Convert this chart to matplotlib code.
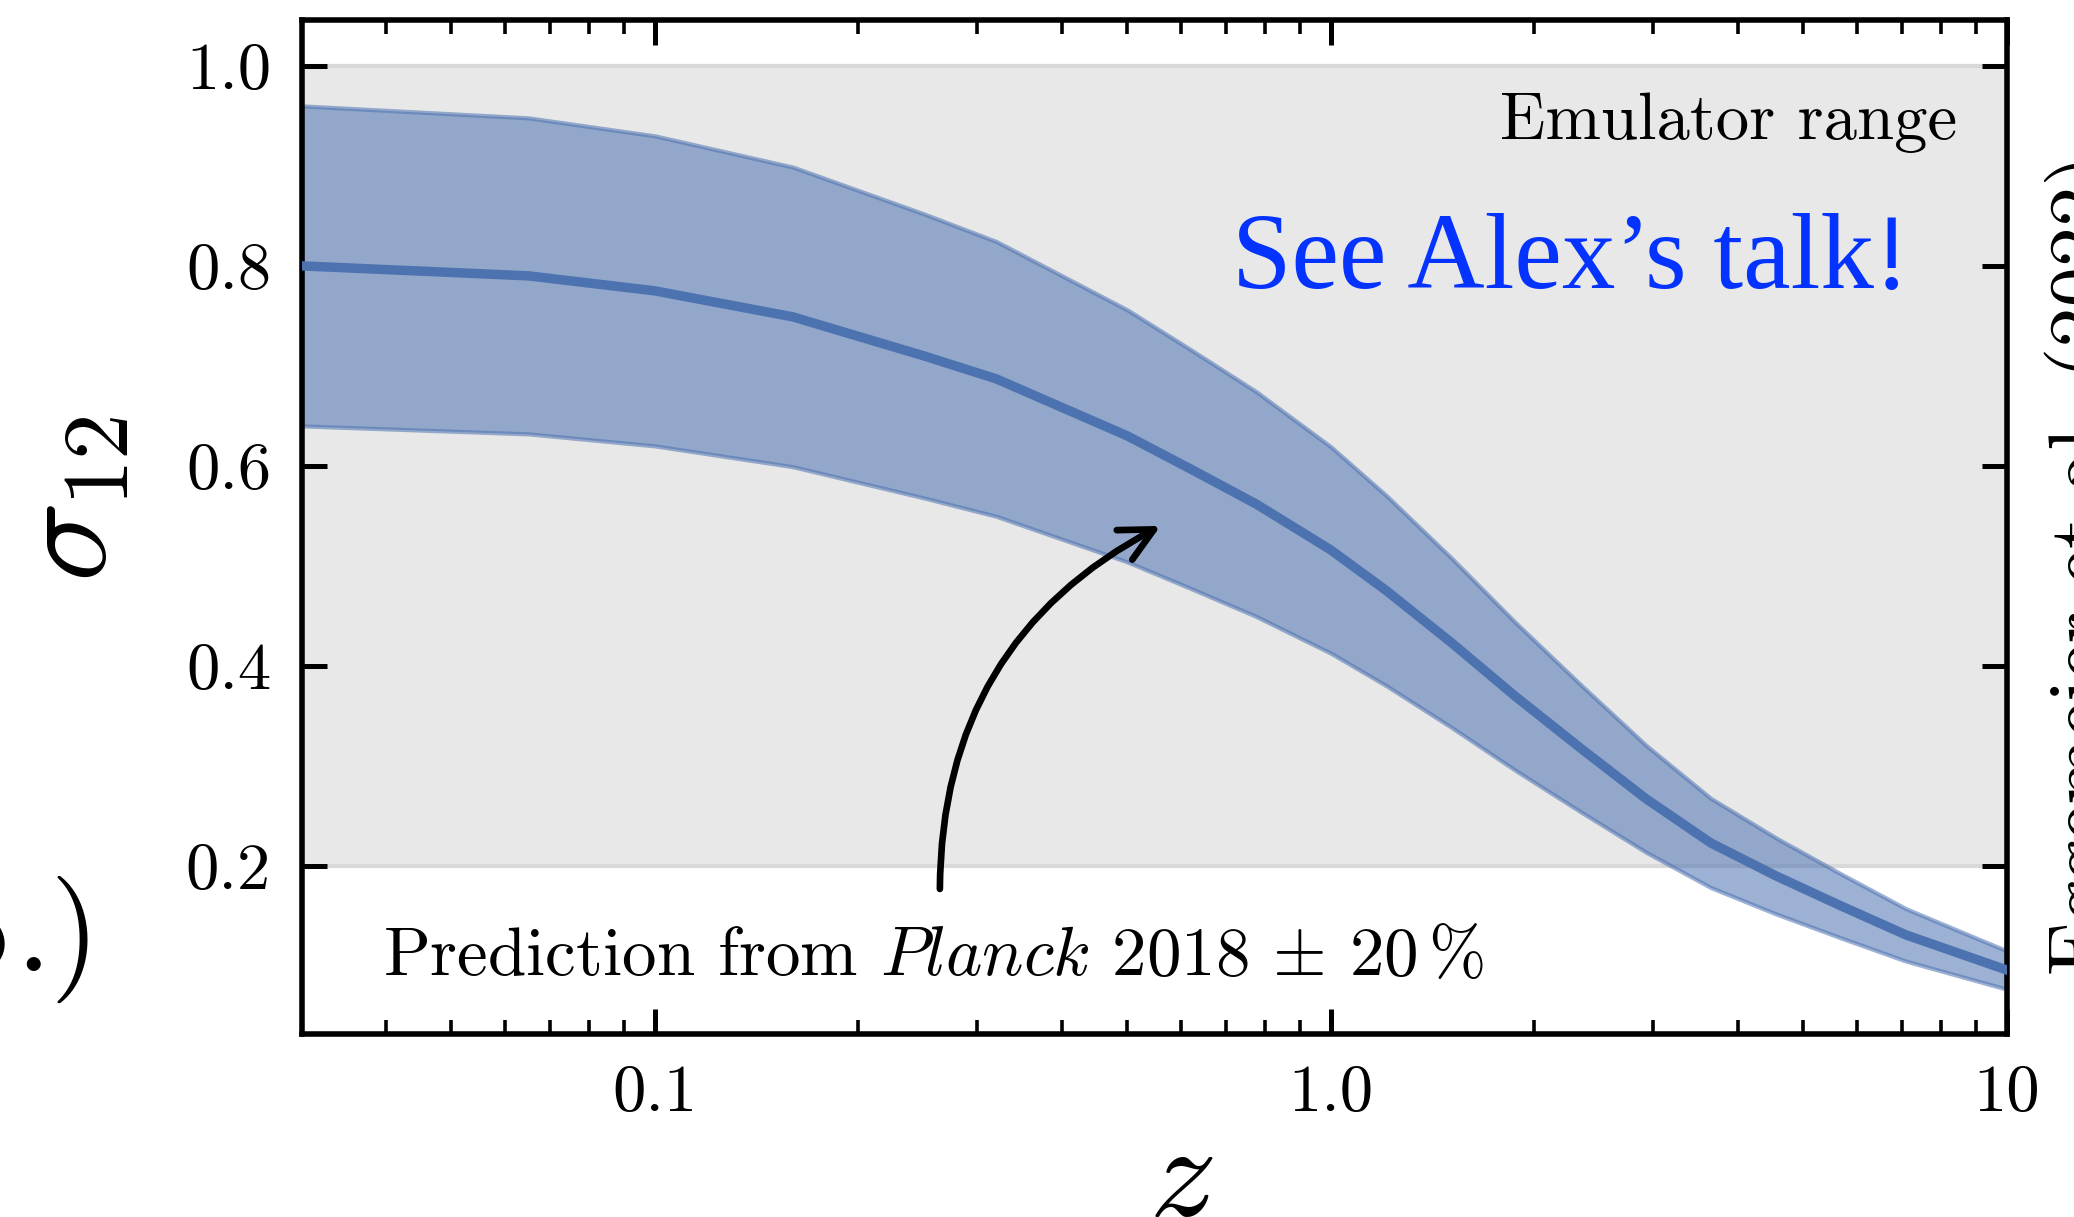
import numpy as np
import matplotlib
matplotlib.use('Agg')
import matplotlib.pyplot as plt
from matplotlib.ticker import LogLocator, NullFormatter, NullLocator

plt.rcParams['font.family'] = 'serif'
plt.rcParams['font.serif'] = ['cmr10']
plt.rcParams['mathtext.fontset'] = 'cm'
plt.rcParams['axes.formatter.use_mathtext'] = True

# sigma_12(z)
z = [0.03, 0.065, 0.1, 0.16, 0.25, 0.32, 0.5, 0.62, 0.775, 1.0, 1.21, 1.51,
     1.88, 2.35, 2.93, 3.65, 4.56, 5.69, 7.1, 10.0]
sigma12 = [0.80, 0.79, 0.775, 0.749, 0.71, 0.687, 0.63, 0.597, 0.562, 0.516, 0.475, 0.423,
           0.369, 0.317, 0.267, 0.223, 0.19, 0.16, 0.131, 0.096]
frac = 0.20          # +- 20 %
emu_range = (0.2, 1.0)

xtick_vals = [0.1, 1.0, 10.0]
xtick_labels = ['0.1', '1.0', '10']
ytick_vals = [0.2, 0.4, 0.6, 0.8, 1.0]
ytick_labels = ['0.2', '0.4', '0.6', '0.8', '1.0']

col = '#4c72b0'

s = np.array(sigma12)
lo = s * (1 - frac)
hi = s * (1 + frac)

fig = plt.figure(figsize=(10.37, 6.085), dpi=200)
ax = fig.add_axes([0.1454, 0.1504, 0.8221, 0.8333])

ax.axhspan(emu_range[0], emu_range[1], fc='#e8e8e8', ec='#d9d9d9', lw=1.5, zorder=0)
ax.fill_between(z, lo, hi, fc=col, ec=col, alpha=0.55, lw=1.5, zorder=2)
ax.plot(z, sigma12, color=col, lw=3.4, zorder=3)

ax.set_xscale('log')
ax.set_xlim(0.03, 10)
ax.set_ylim(0.032, 1.046)

ax.set_xticks(xtick_vals, xtick_labels)
ax.xaxis.set_minor_locator(LogLocator(base=10, subs=np.arange(2, 10)))
ax.xaxis.set_minor_formatter(NullFormatter())
ax.set_yticks(ytick_vals, ytick_labels)
ax.yaxis.set_minor_locator(NullLocator())

ax.tick_params(which='both', direction='in', top=True, right=True, labelsize=24, pad=11)
ax.tick_params(which='major', length=9, width=1.8)
ax.tick_params(which='minor', length=5, width=1.3)
for sp in ax.spines.values():
    sp.set_linewidth(2.0)

ax.set_ylabel(r'$\sigma_{12}$', fontsize=48)
ax.yaxis.set_label_coords(-0.0995, 0.5275)
ax.set_xlabel(r'$z$', fontsize=48)
ax.xaxis.set_label_coords(0.516, -0.088)

ax.text(0.971, 0.8825, 'Emulator range', transform=ax.transAxes,
        ha='right', va='baseline', fontsize=24)
ax.text(0.943, 0.7356, 'See Alex\u2019s talk!', transform=ax.transAxes,
        ha='right', va='baseline', fontsize=38.5, color='#0433ff',
        family='Liberation Serif')
ax.text(0.0477, 0.058, r'Prediction from $\mathit{Planck}$ 2018 $\pm$ 20$\,$%',
        transform=ax.transAxes, ha='left', va='baseline', fontsize=24.85)

ax.annotate('', xy=(0.56, 0.54), xytext=(0.264, 0.177),
            arrowprops=dict(arrowstyle='->', lw=2.4, color='k',
                            connectionstyle='arc3,rad=-0.3',
                            shrinkA=0, shrinkB=0, mutation_scale=30))

# bits of the surrounding slide that are cut by the crop
fig.text(100 / 2074, 1 - 971 / 1217, '.)', ha='right', va='baseline', fontsize=46)
fig.text(9 / 2074, 1 - 971 / 1217, 'p', ha='right', va='baseline', fontsize=46)
fig.text(2044 / 2074, 242 / 1217, 'Eggemeier et al. (2022)', rotation=90,
         ha='left', va='bottom', fontsize=29)

fig.savefig('out.png', dpi=200)
